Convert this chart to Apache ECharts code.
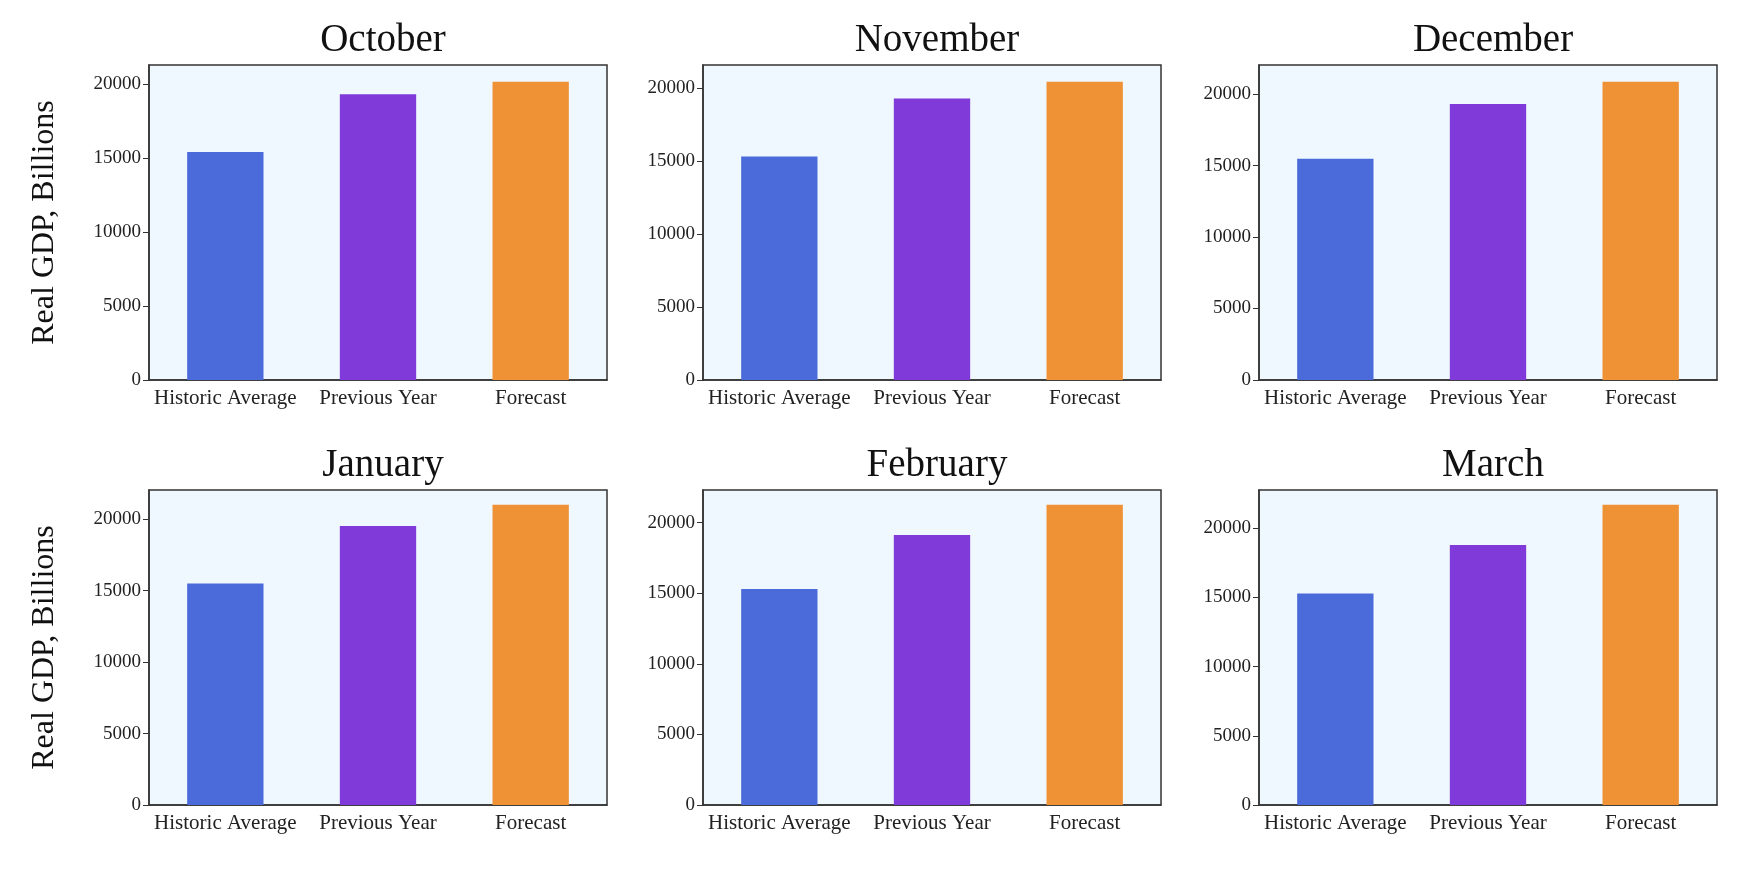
<!DOCTYPE html>
<html>
<head>
<meta charset="utf-8">
<script src="https://cdn.jsdelivr.net/npm/echarts@6/dist/echarts.min.js"></script>
<style>
  html, body { margin: 0; padding: 0; background: #fff; }
  #chart { width: 1744px; height: 882px; }
</style>
</head>
<body>
<div id="chart"></div>
<script>
'use strict';

const months = ['October', 'November', 'December', 'January', 'February', 'March'];
const categories = ['Historic Average', 'Previous Year', 'Forecast'];
const historic = [15400, 15330, 15470, 15510, 15300, 15280];
const previousYear = [19300, 19310, 19300, 19530, 19120, 18780];
const forecast = [20150, 20460, 20860, 21020, 21270, 21700];
const axisMax = [21280, 21600, 22030, 22050, 22310, 22760];
const barColors = ['#4a6bd9', '#7f3ad9', '#ef9135'];

(function () {
  const FONT = 'Liberation Serif';
  const lefts = [149, 703, 1259];
  const tops = [65, 490];
  const W = 458;
  const H = 315;

  const grids = [];
  const xAxes = [];
  const yAxes = [];
  const series = [];
  const titles = [];

  months.forEach((m, i) => {
    const col = i % 3;
    const row = Math.floor(i / 3);
    grids.push({
      left: lefts[col], top: tops[row], width: W, height: H,
      show: true, backgroundColor: '#f0f8ff', borderColor: '#333', borderWidth: 1.5,
    });
    titles.push({
      text: m, left: lefts[col] + W / 2, top: tops[row] - 49, textAlign: 'center',
      textStyle: { fontFamily: FONT, fontSize: 39, fontWeight: 'normal', color: '#111' },
    });
    xAxes.push({
      type: 'category', gridIndex: i, data: categories,
      axisLine: { lineStyle: { color: '#333', width: 1.5 } },
      axisTick: { alignWithLabel: true, length: 6, lineStyle: { color: '#333' } },
      axisLabel: { interval: 0, fontFamily: FONT, fontSize: 21, color: '#222', margin: 8 },
    });
    yAxes.push({
      type: 'value', gridIndex: i, min: 0, max: axisMax[i], interval: 5000,
      splitLine: { show: false },
      axisLine: { show: true, lineStyle: { color: '#333', width: 1.5 } },
      axisTick: { show: true, length: 6, lineStyle: { color: '#333' } },
      axisLabel: {
        showMaxLabel: false, fontFamily: FONT, fontSize: 19, color: '#222', margin: 8,
        formatter: (v) => String(v),
      },
      name: col === 0 ? 'Real GDP, Billions' : '',
      nameLocation: 'middle', nameGap: 88,
      nameTextStyle: { fontFamily: FONT, fontSize: 32, color: '#111' },
    });
    series.push({
      type: 'bar', xAxisIndex: i, yAxisIndex: i, barWidth: '50%',
      data: [historic[i], previousYear[i], forecast[i]].map((v, k) => ({
        value: v, itemStyle: { color: barColors[k] },
      })),
    });
  });

  const chart = echarts.init(document.getElementById('chart'));
  chart.setOption({
    animation: false,
    title: titles,
    grid: grids,
    xAxis: xAxes,
    yAxis: yAxes,
    series,
  });
})();
</script>
</body>
</html>
